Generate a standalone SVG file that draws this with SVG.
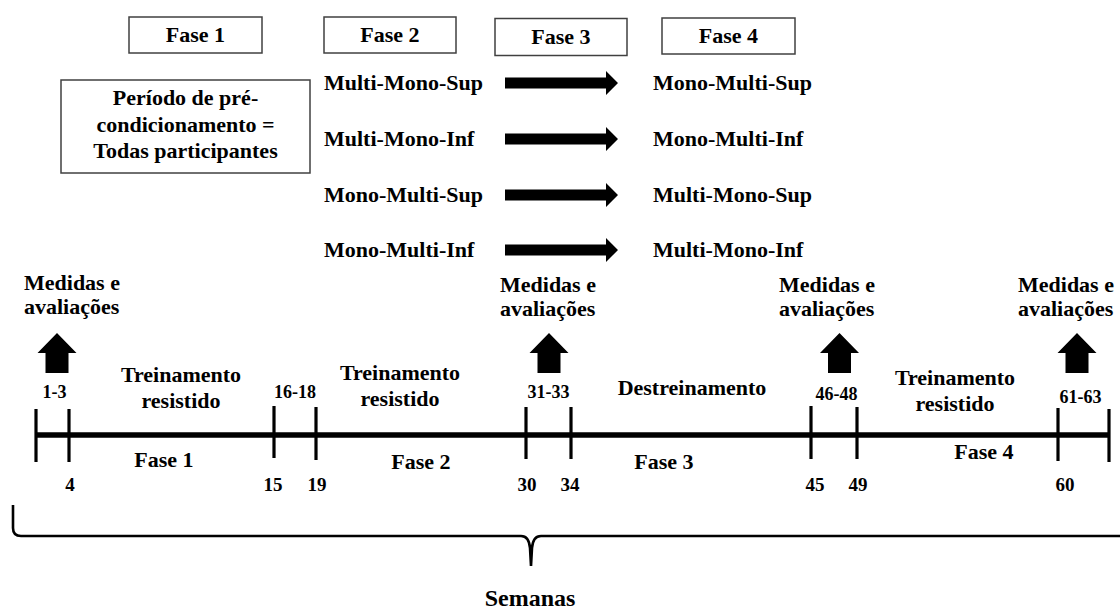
<svg xmlns="http://www.w3.org/2000/svg" width="1120" height="611" viewBox="0 0 1120 611">
<style>
text { font-family: "Liberation Serif", Tinos, "Times New Roman", "DejaVu Serif", serif; font-weight: bold; fill: #000; font-size: 22px; }
.c { text-anchor: middle; }
.r18 { font-size: 18px; }
.n19 { font-size: 19px; }
.sem { font-size: 24px; }
.box { fill: #fff; stroke: #404040; stroke-width: 1.5; }
.tl { stroke: #000; stroke-width: 5.5; fill: none; }
.tick { stroke: #000; stroke-width: 3.2; }
.brace { stroke: #000; stroke-width: 2.6; fill: none; }
.ar { fill: #000; }
</style>
<defs>
<path id="ra" d="M0,-5.5 H101 V-12 L113,0 L101,12 V5.5 H0 Z"/>
<path id="ua" d="M0,0 L19.5,20 H11.5 V40 H-11.5 V20 H-19.5 Z"/>
</defs>

<g id="fase1-box"><rect class="box" x="129" y="17" width="133" height="36"/><text class="c" x="195.5" y="42">Fase 1</text></g>
<g id="fase2-box"><rect class="box" x="324" y="17" width="132" height="36"/><text class="c" x="390" y="42">Fase 2</text></g>
<g id="fase3-box"><rect class="box" x="495" y="18.5" width="132" height="37"/><text class="c" x="561" y="43.5">Fase 3</text></g>
<g id="fase4-box"><rect class="box" x="662" y="18" width="133" height="36"/><text class="c" x="728.5" y="43">Fase 4</text></g>

<g id="precond"><rect class="box" x="61" y="80" width="249" height="93"/>
<text class="c" x="185.5" y="105">Período de pré-</text>
<text class="c" x="185.5" y="132">condicionamento =</text>
<text class="c" x="185.5" y="158">Todas participantes</text></g>

<g id="row1"><text x="324" y="90">Multi-Mono-Sup</text><text x="653" y="90">Mono-Multi-Sup</text></g>
<g id="row2"><text x="324" y="146">Multi-Mono-Inf</text><text x="653" y="146">Mono-Multi-Inf</text></g>
<g id="row3"><text x="324" y="202">Mono-Multi-Sup</text><text x="653" y="202">Multi-Mono-Sup</text></g>
<g id="row4"><text x="324" y="257">Mono-Multi-Inf</text><text x="653" y="257">Multi-Mono-Inf</text></g>

<g id="connectors">
<use href="#ra" class="ar" transform="translate(505,83)"/>
<use href="#ra" class="ar" transform="translate(505,139)"/>
<use href="#ra" class="ar" transform="translate(505,195)"/>
<use href="#ra" class="ar" transform="translate(505,250)"/>
<use href="#ua" class="ar" transform="translate(57,333)"/>
<use href="#ua" class="ar" transform="translate(549,333)"/>
<use href="#ua" class="ar" transform="translate(839.5,333)"/>
<use href="#ua" class="ar" transform="translate(1077,333)"/>
</g>

<g id="medidas1"><text x="24" y="290">Medidas e</text><text x="24" y="314">avaliações</text></g>
<g id="medidas2"><text x="500" y="292">Medidas e</text><text x="500" y="316">avaliações</text></g>
<g id="medidas3"><text x="779" y="292">Medidas e</text><text x="779" y="316">avaliações</text></g>
<g id="medidas4"><text x="1018" y="292">Medidas e</text><text x="1018" y="316">avaliações</text></g>

<g id="periods">
<text class="c" x="181" y="382">Treinamento</text><text class="c" x="181" y="408">resistido</text>
<text class="c" x="400" y="380">Treinamento</text><text class="c" x="400" y="406">resistido</text>
<text class="c" x="692" y="395">Destreinamento</text>
<text class="c" x="955" y="385">Treinamento</text><text class="c" x="955" y="411">resistido</text>
</g>

<g id="timeline">
<line class="tl" x1="36" y1="435" x2="1109" y2="435"/>
<line class="tick" x1="36" y1="409" x2="36" y2="462"/>
<line class="tick" x1="69" y1="409" x2="69" y2="462"/>
<line class="tick" x1="274" y1="406" x2="274" y2="458"/>
<line class="tick" x1="316" y1="407" x2="316" y2="460"/>
<line class="tick" x1="526" y1="407" x2="526" y2="459"/>
<line class="tick" x1="571" y1="407" x2="571" y2="459"/>
<line class="tick" x1="811" y1="406" x2="811" y2="459"/>
<line class="tick" x1="857" y1="407" x2="857" y2="459"/>
<line class="tick" x1="1058" y1="408" x2="1058" y2="461"/>
<line class="tick" x1="1109" y1="409" x2="1109" y2="462"/>
</g>

<g id="ranges">
<text class="c r18" x="54.5" y="398">1-3</text>
<text class="c r18" x="295" y="398">16-18</text>
<text class="c r18" x="548.5" y="398">31-33</text>
<text class="c r18" x="836.5" y="400">46-48</text>
<text class="c r18" x="1080.5" y="403">61-63</text>
</g>

<g id="phases">
<text class="c" x="164" y="467">Fase 1</text>
<text class="c" x="421" y="469">Fase 2</text>
<text class="c" x="664" y="469">Fase 3</text>
<text class="c" x="984" y="459">Fase 4</text>
</g>

<g id="weeks">
<text class="c n19" x="70" y="491">4</text>
<text class="c n19" x="273" y="491">15</text>
<text class="c n19" x="317" y="491">19</text>
<text class="c n19" x="527" y="491">30</text>
<text class="c n19" x="570" y="491">34</text>
<text class="c n19" x="815" y="491">45</text>
<text class="c n19" x="858" y="491">49</text>
<text class="c n19" x="1065" y="491">60</text>
</g>

<g id="semanas">
<path class="brace" d="M13,505 V528 Q13,536 21,536 H521 Q529,536 530,548 L531,566 L532,548 Q533,536 541,536 H1125"/>
<text class="c sem" x="530" y="606">Semanas</text>
</g>
</svg>
